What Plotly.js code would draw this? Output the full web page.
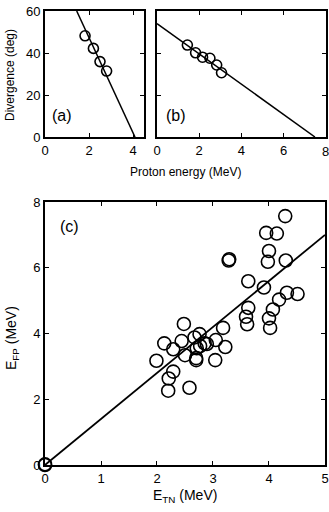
<!DOCTYPE html>
<html><head><meta charset="utf-8">
<script src="https://cdn.plot.ly/plotly-3.0.1.min.js"></script>
<style>html,body{margin:0;padding:0;background:#fff}#chart{width:329px;height:512px}</style>
</head><body><div id="chart"></div>
<script>
// Panel (a): divergence vs proton energy
const aEnergy = [1.82, 2.2, 2.5, 2.8];
const aDiv = [48.2, 42.2, 35.9, 31.4];
const aFitX = [1.44, 4.09];
const aFitY = [60, 0];
// Panel (b)
const bEnergy = [1.44, 1.83, 2.16, 2.51, 2.83, 3.06];
const bDiv = [43.8, 40.1, 38.0, 37.5, 34.3, 30.6];
const bFitX = [0, 7.49];
const bFitY = [54, 0];
const bTicks = [0, 2, 4, 6, 8];
// Panel (c): E_FP vs E_TN
const cTN = [0, 0, 4.29, 3.95, 4.14, 3.28, 3.29, 4.0, 3.98, 4.30, 3.63, 3.91, 4.51, 4.32, 4.18, 4.07,
  3.63, 3.59, 3.61, 4.0, 4.02, 2.48, 3.18, 2.76, 2.67, 2.13, 2.44, 3.05, 3.22, 2.89, 2.77,
  2.29, 2.5, 2.71, 2.70, 2.70, 3.04, 1.99, 2.29, 2.21, 2.20, 2.58, 2.85];
const cFP = [0, 0.02, 7.57, 7.06, 7.04, 6.22, 6.26, 6.51, 6.18, 6.22, 5.59, 5.40, 5.2, 5.24, 5.03, 4.73,
  4.78, 4.51, 4.28, 4.46, 4.17, 4.29, 4.17, 3.98, 3.88, 3.70, 3.77, 3.80, 3.59, 3.68, 3.62,
  3.52, 3.34, 3.55, 3.19, 3.25, 3.19, 3.17, 2.84, 2.63, 2.26, 2.35, 3.70];
const cFitX = [0, 5];
const cFitY = [0, 7.0];

const FONT = 'Liberation Sans, Arial, sans-serif';
const mk = (size) => ({symbol: 'circle-open', size: size, color: '#000', line: {width: 1.6, color: '#000'}});
const traces = [
  {x: aFitX, y: aFitY, mode: 'lines', line: {color: '#000', width: 1.5}, xaxis: 'x', yaxis: 'y'},
  {x: aEnergy, y: aDiv, mode: 'markers', marker: mk(10), xaxis: 'x', yaxis: 'y'},
  {x: bFitX, y: bFitY, mode: 'lines', line: {color: '#000', width: 1.5}, xaxis: 'x2', yaxis: 'y2'},
  {x: bEnergy, y: bDiv, mode: 'markers', marker: mk(10), xaxis: 'x2', yaxis: 'y2'},
  {x: cFitX, y: cFitY, mode: 'lines', line: {color: '#000', width: 1.8}, xaxis: 'x3', yaxis: 'y3'},
  {x: cTN, y: cFP, mode: 'markers', marker: mk(13), xaxis: 'x3', yaxis: 'y3', cliponaxis: false}
];
const ax = (extra) => Object.assign({
  showgrid: false, zeroline: false, showline: true, linecolor: '#000', linewidth: 2,
  mirror: 'ticks', ticks: 'inside', ticklen: 4, tickwidth: 1, tickcolor: '#000',
  tickmode: 'linear', tick0: 0, ticklabeloverflow: 'allow',
  tickfont: {family: FONT, size: 13, color: '#000'}
}, extra);
// last tick label of panel (b) sits on the page edge; Plotly hides it, so it is drawn as an axis-anchored label
const bEdgeLabels = bTicks.slice(-1).map(v => ({
  text: String(v), xref: 'x2', yref: 'paper', x: v, y: 1 - 151/512, showarrow: false,
  font: {family: FONT, size: 13, color: '#000'}, xanchor: 'center', yanchor: 'middle'
}));
const layout = {
  width: 329, height: 512, margin: {l: 0, r: 0, t: 0, b: 0},
  paper_bgcolor: '#fff', plot_bgcolor: '#fff', showlegend: false,
  font: {family: FONT, color: '#000'},
  xaxis: ax({domain: [0.1368, 0.4377], range: [0, 4.5], dtick: 2, anchor: 'y'}),
  yaxis: ax({domain: [0.7324, 0.9785], range: [0, 60], dtick: 20, anchor: 'x'}),
  xaxis2: ax({domain: [0.4772, 0.99], range: [0, 8], tickmode: 'array', tickvals: bTicks,
    ticktext: bTicks.map(v => v === 8 ? '' : String(v)), anchor: 'y2'}),
  yaxis2: ax({domain: [0.7324, 0.9785], range: [0, 60], dtick: 20, showticklabels: false, anchor: 'x2'}),
  xaxis3: ax({domain: [0.1368, 0.9878], range: [0, 5], dtick: 1, anchor: 'y3'}),
  yaxis3: ax({domain: [0.0918, 0.6055], range: [0, 8], dtick: 2, anchor: 'x3'}),
  annotations: [
    {text: 'Divergence (deg)', xref: 'paper', yref: 'paper', x: 10/329, y: 1 - 75/512, textangle: -90,
     showarrow: false, font: {size: 12}, xanchor: 'center', yanchor: 'middle'},
    {text: 'Proton energy (MeV)', xref: 'paper', yref: 'paper', x: 185/329, y: 1 - 172/512,
     showarrow: false, font: {size: 12}, xanchor: 'center', yanchor: 'middle'},
    {text: '(a)', xref: 'paper', yref: 'paper', x: 62/329, y: 1 - 115/512,
     showarrow: false, font: {size: 16}, xanchor: 'center', yanchor: 'middle'},
    {text: '(b)', xref: 'paper', yref: 'paper', x: 176/329, y: 1 - 115/512,
     showarrow: false, font: {size: 16}, xanchor: 'center', yanchor: 'middle'},
    {text: '(c)', xref: 'paper', yref: 'paper', x: 69/329, y: 1 - 226/512,
     showarrow: false, font: {size: 16}, xanchor: 'center', yanchor: 'middle'},
    {text: 'E<sub>FP</sub> (MeV)', xref: 'paper', yref: 'paper', x: 12/329, y: 1 - 338/512, textangle: -90,
     showarrow: false, font: {size: 14}, xanchor: 'center', yanchor: 'middle'},
    {text: 'E<sub>TN</sub> (MeV)', xref: 'paper', yref: 'paper', x: 185/329, y: 1 - 496/512,
     showarrow: false, font: {size: 14}, xanchor: 'center', yanchor: 'middle'}
  ].concat(bEdgeLabels)
};
Plotly.newPlot('chart', traces, layout, {staticPlot: true});
</script></body></html>
